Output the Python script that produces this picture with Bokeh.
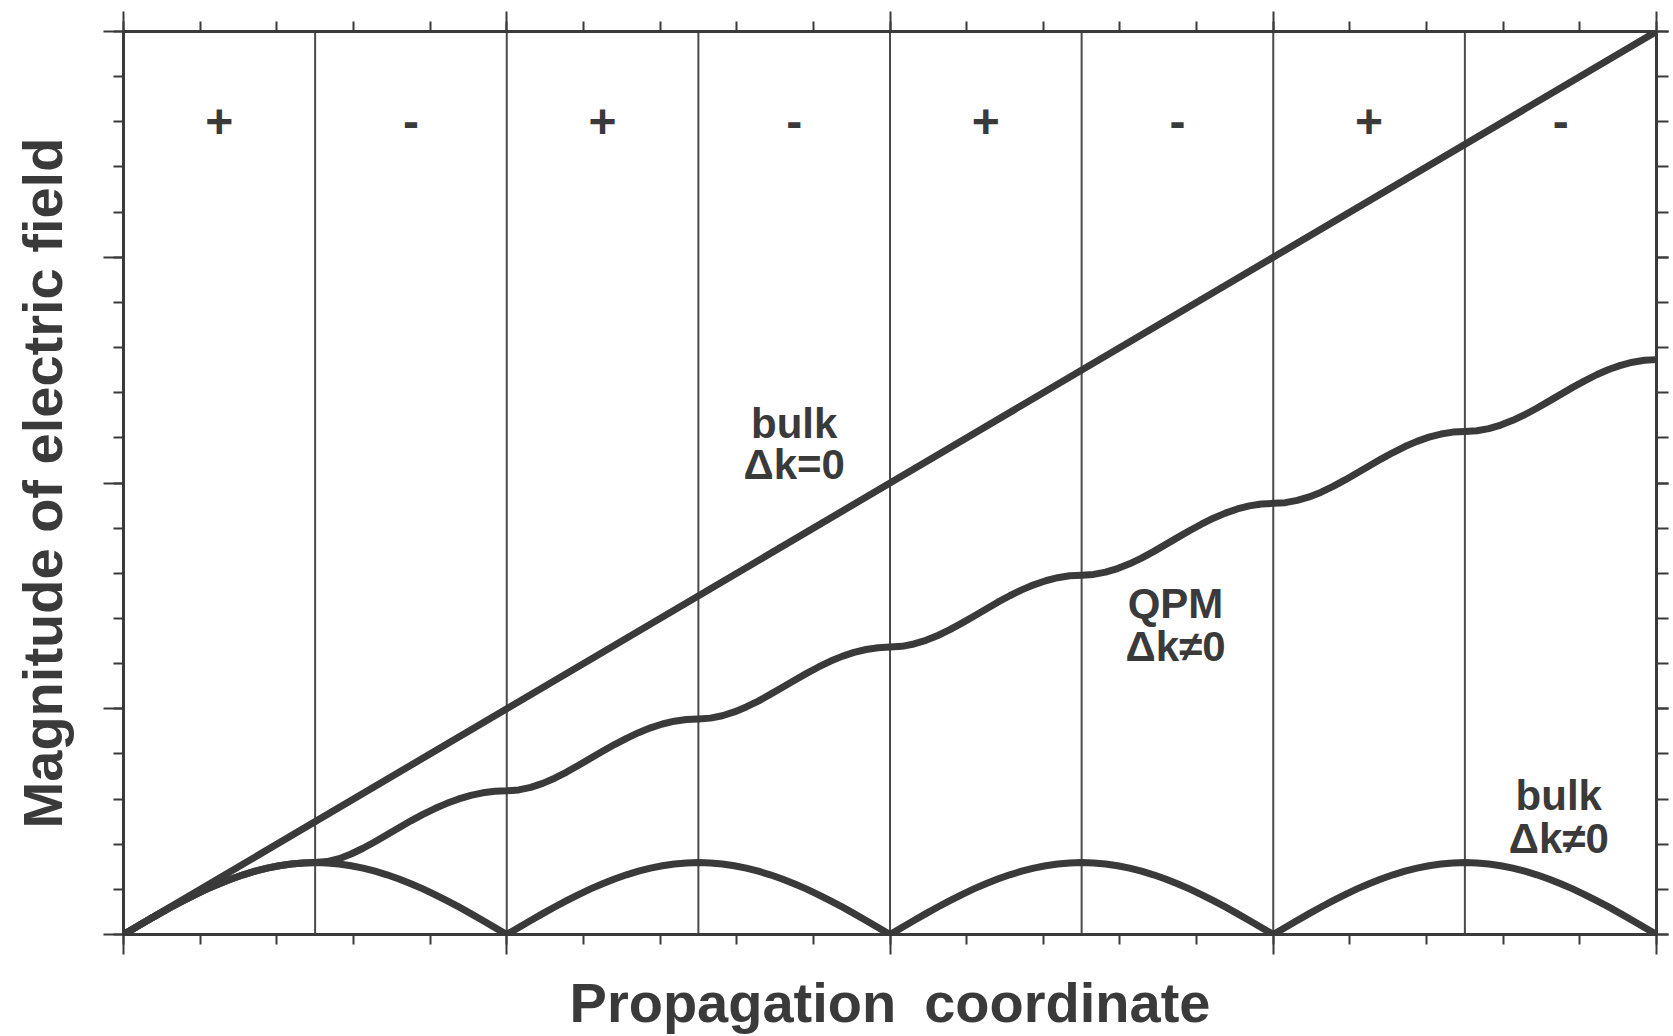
from bokeh.plotting import figure
from bokeh.models import Range1d, LinearAxis, FixedTicker, ColumnDataSource, CustomJSTickFormatter
from bokeh.core.properties import value
from bokeh.embed import file_html
from bokeh.resources import INLINE

# ---- data (x and y in coherence-length units) ----
xs = [0.0, 0.0625, 0.125, 0.1875, 0.25, 0.3125, 0.375, 0.4375, 0.5, 0.5625, 0.625, 0.6875, 0.75, 0.8125, 0.875, 0.9375,
      1.0, 1.0625, 1.125, 1.1875, 1.25, 1.3125, 1.375, 1.4375, 1.5, 1.5625, 1.625, 1.6875, 1.75, 1.8125, 1.875, 1.9375,
      2.0, 2.0625, 2.125, 2.1875, 2.25, 2.3125, 2.375, 2.4375, 2.5, 2.5625, 2.625, 2.6875, 2.75, 2.8125, 2.875, 2.9375,
      3.0, 3.0625, 3.125, 3.1875, 3.25, 3.3125, 3.375, 3.4375, 3.5, 3.5625, 3.625, 3.6875, 3.75, 3.8125, 3.875, 3.9375,
      4.0, 4.0625, 4.125, 4.1875, 4.25, 4.3125, 4.375, 4.4375, 4.5, 4.5625, 4.625, 4.6875, 4.75, 4.8125, 4.875, 4.9375,
      5.0, 5.0625, 5.125, 5.1875, 5.25, 5.3125, 5.375, 5.4375, 5.5, 5.5625, 5.625, 5.6875, 5.75, 5.8125, 5.875, 5.9375,
      6.0, 6.0625, 6.125, 6.1875, 6.25, 6.3125, 6.375, 6.4375, 6.5, 6.5625, 6.625, 6.6875, 6.75, 6.8125, 6.875, 6.9375,
      7.0, 7.0625, 7.125, 7.1875, 7.25, 7.3125, 7.375, 7.4375, 7.5, 7.5625, 7.625, 7.6875, 7.75, 7.8125, 7.875, 7.9375,
      8.0]

qpm = [0.000, 0.062, 0.124, 0.185, 0.244, 0.300, 0.354, 0.404, 0.450, 0.492, 0.529, 0.561, 0.588, 0.609, 0.624, 0.634,
       0.637, 0.646, 0.672, 0.713, 0.764, 0.822, 0.884, 0.946, 1.007, 1.064, 1.116, 1.162, 1.201, 1.232, 1.255, 1.269,
       1.273, 1.281, 1.303, 1.339, 1.385, 1.439, 1.499, 1.561, 1.623, 1.683, 1.738, 1.788, 1.831, 1.865, 1.890, 1.905,
       1.910, 1.917, 1.938, 1.972, 2.016, 2.068, 2.127, 2.189, 2.251, 2.311, 2.368, 2.420, 2.464, 2.499, 2.525, 2.541,
       2.547, 2.553, 2.574, 2.606, 2.649, 2.701, 2.759, 2.820, 2.882, 2.944, 3.001, 3.053, 3.098, 3.134, 3.161, 3.178,
       3.183, 3.190, 3.210, 3.242, 3.284, 3.335, 3.392, 3.454, 3.516, 3.577, 3.635, 3.688, 3.733, 3.770, 3.797, 3.814,
       3.820, 3.826, 3.846, 3.877, 3.919, 3.970, 4.027, 4.088, 4.150, 4.212, 4.270, 4.323, 4.369, 4.406, 4.434, 4.451,
       4.456, 4.463, 4.482, 4.513, 4.555, 4.605, 4.662, 4.723, 4.785, 4.847, 4.905, 4.959, 5.005, 5.042, 5.070, 5.087,
       5.093]

bulk_mismatch = [0.000, 0.062, 0.124, 0.185, 0.244, 0.300, 0.354, 0.404, 0.450, 0.492, 0.529, 0.561, 0.588, 0.609, 0.624, 0.634,
                 0.637, 0.634, 0.624, 0.609, 0.588, 0.561, 0.529, 0.492, 0.450, 0.404, 0.354, 0.300, 0.244, 0.185, 0.124, 0.062,
                 0.000, 0.062, 0.124, 0.185, 0.244, 0.300, 0.354, 0.404, 0.450, 0.492, 0.529, 0.561, 0.588, 0.609, 0.624, 0.634,
                 0.637, 0.634, 0.624, 0.609, 0.588, 0.561, 0.529, 0.492, 0.450, 0.404, 0.354, 0.300, 0.244, 0.185, 0.124, 0.062,
                 0.000, 0.062, 0.124, 0.185, 0.244, 0.300, 0.354, 0.404, 0.450, 0.492, 0.529, 0.561, 0.588, 0.609, 0.624, 0.634,
                 0.637, 0.634, 0.624, 0.609, 0.588, 0.561, 0.529, 0.492, 0.450, 0.404, 0.354, 0.300, 0.244, 0.185, 0.124, 0.062,
                 0.000, 0.062, 0.124, 0.185, 0.244, 0.300, 0.354, 0.404, 0.450, 0.492, 0.529, 0.561, 0.588, 0.609, 0.624, 0.634,
                 0.637, 0.634, 0.624, 0.609, 0.588, 0.561, 0.529, 0.492, 0.450, 0.404, 0.354, 0.300, 0.244, 0.185, 0.124, 0.062,
                 0.000]

bulk_x = [0, 2, 4, 6, 8]
bulk_y = [0, 2, 4, 6, 8]

domain_bounds = [1, 2, 3, 4, 5, 6, 7]
domain_centers = [0.5, 1.5, 2.5, 3.5, 4.5, 5.5, 6.5, 7.5]
domain_signs = ["+", "-", "+", "-", "+", "-", "+", "-"]

major_ticks = [0, 2, 4, 6, 8]
minor_ticks = [0.0, 0.4, 0.8, 1.2, 1.6, 2.0, 2.4, 2.8, 3.2, 3.6, 4.0,
               4.4, 4.8, 5.2, 5.6, 6.0, 6.4, 6.8, 7.2, 7.6, 8.0]

label_text = ["bulk", "\u0394k=0", "QPM", "\u0394k\u22600", "bulk", "\u0394k\u22600"]
label_x = [3.5, 3.5, 5.49, 5.49, 7.49, 7.49]
label_y = [4.53, 4.16, 2.93, 2.55, 1.23, 0.85]

INK = "#3a3a3a"
FONT = "Liberation Sans"

p = figure(width=1673, height=1036, output_backend="svg", toolbar_location=None,
           x_range=Range1d(0, 8), y_range=Range1d(0, 8),
           min_border_left=123, min_border_right=17, min_border_top=31, min_border_bottom=100)
p.background_fill_color = "white"
p.border_fill_color = "white"
p.xgrid.visible = False
p.ygrid.visible = False
p.outline_line_color = INK
p.outline_line_width = 3

bottom = p.below[0]
left = p.left[0]
top = LinearAxis()
right = LinearAxis()
p.add_layout(top, "above")
p.add_layout(right, "right")

blank = CustomJSTickFormatter(code="return ''")
for ax in [bottom, top, left, right]:
    ax.ticker = FixedTicker(ticks=major_ticks, minor_ticks=minor_ticks)
    ax.formatter = blank
    ax.axis_line_color = INK
    ax.axis_line_width = 3
    ax.major_tick_line_color = INK
    ax.major_tick_line_width = 2
    ax.minor_tick_line_color = INK
    ax.minor_tick_line_width = 2
    ax.major_tick_in = 0
    ax.minor_tick_in = 0
    ax.major_tick_out = 20
    ax.minor_tick_out = 10
    ax.major_label_standoff = 0
right.major_tick_out = 12
right.minor_tick_out = 12

bottom.axis_label = "Propagation\u2002coordinate"
left.axis_label = "Magnitude of electric field"
for ax in [bottom, left]:
    ax.axis_label_text_font = FONT
    ax.axis_label_text_font_style = "bold"
    ax.axis_label_text_font_size = "56px"
    ax.axis_label_text_color = INK
bottom.axis_label_standoff = 16
left.axis_label_standoff = 30

# domain boundaries
seg = ColumnDataSource(dict(x=domain_bounds, y0=[0] * len(domain_bounds), y1=[8] * len(domain_bounds)))
p.segment(x0="x", y0="y0", x1="x", y1="y1", source=seg, line_color="#4a4a4a", line_width=2)

# curves
p.line(bulk_x, bulk_y, line_color=INK, line_width=7, line_cap="round")
p.line(xs, qpm, line_color=INK, line_width=7, line_cap="round", line_join="round")
p.line(xs, bulk_mismatch, line_color=INK, line_width=7, line_cap="round", line_join="round")

# domain signs
p.text(x=domain_centers, y=[7.2] * len(domain_centers), text=domain_signs,
       text_font=value(FONT), text_font_style="bold", text_font_size="48px",
       text_color=INK, text_align="center", text_baseline="middle")

# curve labels
p.text(x=label_x, y=label_y, text=label_text,
       text_font=value(FONT), text_font_style="bold", text_font_size="42px",
       text_color=INK, text_align="center", text_baseline="middle")

open("out.html", "w").write(file_html(p, INLINE))
